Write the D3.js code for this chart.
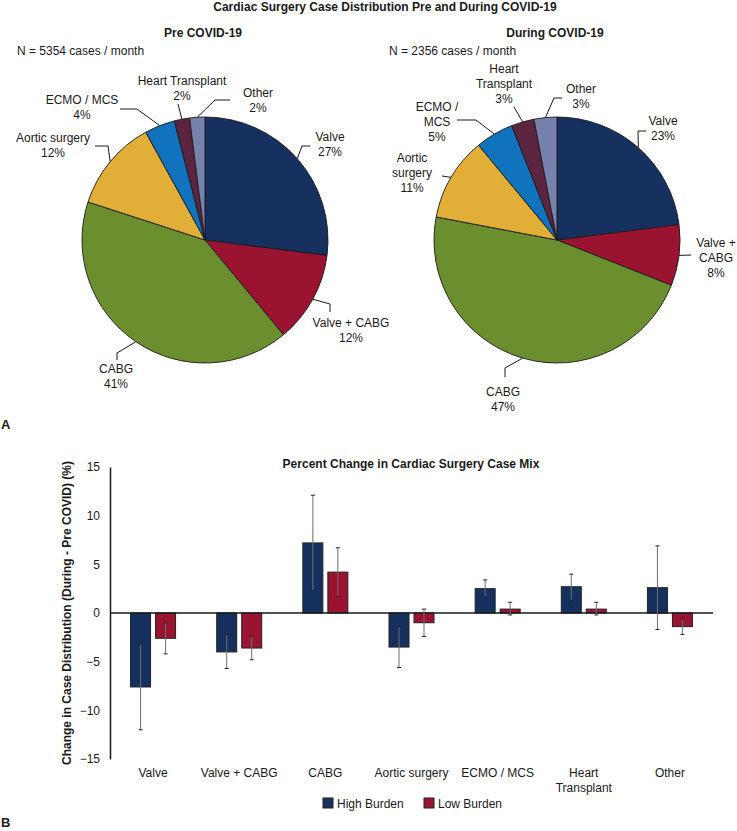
<!DOCTYPE html>
<html><head><meta charset="utf-8">
<script src="https://cdn.jsdelivr.net/npm/d3@7"></script>
<style>
body{margin:0;background:#fff;}
svg{display:block;}
text{font-family:"Liberation Sans",Arial,Helvetica,sans-serif;fill:#1a1a1a;}
</style></head>
<body>
<svg id="chart" width="737" height="831"></svg>
<script>
// ---------- DATA ----------
const sliceNames = ["Valve","Valve + CABG","CABG","Aortic surgery","ECMO / MCS","Heart Transplant","Other"];
const sliceColors = ["#16305f","#9a1431","#6b8e2e","#e1ae37","#1173bd","#5b243f","#7781ae"];
const prePct = [27,12,41,12,4,2,2];
const duringPct = [23,8,47,11,5,3,3];

const categories = ["Valve","Valve + CABG","CABG","Aortic surgery","ECMO / MCS","Heart Transplant","Other"];
const seriesNames = ["High Burden","Low Burden"];
const seriesColors = ["#15305f","#9a1431"];
const highBurden = [-7.6,-4.0,7.2,-3.5,2.5,2.7,2.6];
const highErrLow = [-12.0,-5.7,2.3,-5.6,1.6,1.3,-1.7];
const highErrHigh = [-3.2,-2.2,12.1,-1.4,3.4,4.0,6.9];
const lowBurden = [-2.6,-3.6,4.2,-1.0,0.4,0.4,-1.4];
const lowErrLow = [-4.2,-4.8,1.7,-2.4,-0.2,-0.2,-2.2];
const lowErrHigh = [-1.0,-2.4,6.7,0.4,1.1,1.1,-0.6];
const yTicks = [15,10,5,0,-5,-10,-15];

// ---------- LAYOUT (label placement only) ----------
const preLabels = [
  {lines:["Valve","27%"], x:330, y:141, path:[[302,146],[310,146]]},
  {lines:["Valve + CABG","12%"], x:351, y:327, path:[[330,304],[330,312]]},
  {lines:["CABG","41%"], x:116, y:373, path:[[117,353],[117,360]]},
  {lines:["Aortic surgery","12%"], x:53, y:142, path:[[108,146],[95,146]]},
  {lines:["ECMO / MCS","4%"], x:82, y:104, path:[[137,109],[120,109]]},
  {lines:["Heart Transplant","2%"], x:182, y:85, path:[[178,104]]},
  {lines:["Other","2%"], x:258, y:97, path:[[215,100],[230,100]]}
];
const duringLabels = [
  {lines:["Valve","23%"], x:663, y:125, path:[[638,131],[646,131]]},
  {lines:["Valve +","CABG","8%"], x:716, y:247, path:[[691,255]]},
  {lines:["CABG","47%"], x:503, y:396, path:[[505,368],[505,377]]},
  {lines:["Aortic","surgery","11%"], x:412, y:162, path:[[442,176]]},
  {lines:["ECMO /","MCS","5%"], x:437, y:111, path:[[476,120],[457,120]]},
  {lines:["Heart","Transplant","3%"], x:504, y:73, path:[[514,107]]},
  {lines:["Other","3%"], x:581, y:93, path:[[554,98],[562,98]]}
];

const svg = d3.select("#chart");

// ---------- HEADINGS ----------
function headText(txt, x, y, anchor, bold){
  svg.append("text").attr("x",x).attr("y",y).attr("text-anchor",anchor)
    .style("font-size","12px").style("font-weight",bold?"bold":"normal").text(txt);
}
headText("Cardiac Surgery Case Distribution Pre and During COVID-19", 385, 11, "middle", true);
headText("Pre COVID-19", 203, 37, "middle", true);
headText("During COVID-19", 555, 37, "middle", true);
headText("N = 5354 cases / month", 17, 55, "start", false);
headText("N = 2356 cases / month", 389, 55, "start", false);

// ---------- PIES ----------
const R = 123;
const pie = d3.pie().sort(null).value(d => d);
const arc = d3.arc().innerRadius(0).outerRadius(R);

function drawPie(values, cx, cy, labels){
  const g = svg.append("g").attr("transform",`translate(${cx},${cy})`);
  const arcs = pie(values);
  g.selectAll("path.slice").data(arcs).join("path")
    .attr("class","slice")
    .attr("d",arc)
    .attr("fill",(d,i)=>sliceColors[i])
    .attr("stroke","#1a1a1a").attr("stroke-width",0.9).attr("stroke-linejoin","round");
  arcs.forEach((a,i)=>{
    const mid = (a.startAngle + a.endAngle)/2;
    const sx = cx + R*Math.sin(mid), sy = cy - R*Math.cos(mid);
    const L = labels[i];
    const pts = [[sx,sy]].concat(L.path);
    svg.append("path").attr("d", d3.line()(pts)).attr("fill","none")
      .attr("stroke","#1a1a1a").attr("stroke-width",1);
    const t = svg.append("text").attr("text-anchor","middle").style("font-size","12px");
    L.lines.forEach((ln,k)=>{
      t.append("tspan").attr("x",L.x).attr("y",L.y + k*15).text(ln);
    });
  });
}
drawPie(prePct, 205, 240, preLabels);
drawPie(duringPct, 557, 240, duringLabels);

svg.append("text").attr("x",1).attr("y",429).style("font-size","13px").style("font-weight","bold").text("A");
svg.append("text").attr("x",1).attr("y",827).style("font-size","13px").style("font-weight","bold").text("B");

// ---------- BAR CHART ----------
const x0 = d3.scaleBand().domain(categories).range([110,713]).paddingInner(0).paddingOuter(0);
const groupW = 45;
const x1 = d3.scaleBand().domain(seriesNames).range([0,groupW]).paddingInner(0.2);
const y = d3.scaleLinear().domain([-15,15]).range([759,467]);

const series = [
  {name:seriesNames[0], vals:highBurden, lo:highErrLow, hi:highErrHigh, color:seriesColors[0]},
  {name:seriesNames[1], vals:lowBurden, lo:lowErrLow, hi:lowErrHigh, color:seriesColors[1]}
];

svg.append("text").attr("x",411).attr("y",468).attr("text-anchor","middle")
  .style("font-size","12px").style("font-weight","bold").text("Percent Change in Cardiac Surgery Case Mix");

// y axis
const yAxis = d3.axisLeft(y).tickValues(yTicks).tickSize(0).tickPadding(10);
const ga = svg.append("g").attr("transform","translate(110,0)").call(yAxis);
ga.select(".domain").attr("stroke","#1a1a1a").attr("stroke-width",1.5);
ga.selectAll(".tick text").style("font-size","12px").style("font-family",'"Liberation Sans",Arial,sans-serif').attr("fill","#1a1a1a");

svg.append("text").attr("transform","translate(71,613) rotate(-90)").attr("text-anchor","middle")
  .style("font-size","12px").style("font-weight","bold")
  .text("Change in Case Distribution (During - Pre COVID) (%)");

const bars = svg.append("g");
series.forEach(s=>{
  categories.forEach((c,i)=>{
    const bx = x0(c) + (x0.bandwidth()-groupW)/2 + x1(s.name);
    const v = s.vals[i];
    bars.append("rect")
      .attr("x",bx).attr("width",x1.bandwidth())
      .attr("y",y(Math.max(0,v))).attr("height",Math.abs(y(v)-y(0)))
      .attr("fill",s.color).attr("stroke","#222").attr("stroke-width",1);
  });
});
// zero line
svg.append("line").attr("x1",110).attr("x2",713).attr("y1",y(0)).attr("y2",y(0))
  .attr("stroke","#1a1a1a").attr("stroke-width",1.5);
// error bars
series.forEach(s=>{
  categories.forEach((c,i)=>{
    const cx = x0(c) + (x0.bandwidth()-groupW)/2 + x1(s.name) + x1.bandwidth()/2;
    svg.append("line").attr("x1",cx).attr("x2",cx).attr("y1",y(s.lo[i])).attr("y2",y(s.hi[i]))
      .attr("stroke","#6e6e6e").attr("stroke-width",1);
    [s.lo[i],s.hi[i]].forEach(e=>{
      svg.append("line").attr("x1",cx-2).attr("x2",cx+2).attr("y1",y(e)).attr("y2",y(e))
        .attr("stroke","#222").attr("stroke-width",1);
    });
  });
});

// x labels
categories.forEach(c=>{
  const words = c === "Heart Transplant" ? ["Heart","Transplant"] : [c];
  const t = svg.append("text").attr("text-anchor","middle").style("font-size","12px");
  words.forEach((w,k)=>{
    t.append("tspan").attr("x",x0(c)+x0.bandwidth()/2).attr("y",777+k*15).text(w);
  });
});

// legend
const legX = [323,424];
series.forEach((s,i)=>{
  svg.append("rect").attr("x",legX[i]).attr("y",798).attr("width",10).attr("height",10)
    .attr("fill",s.color).attr("stroke","#222").attr("stroke-width",1);
  svg.append("text").attr("x",legX[i]+14).attr("y",807.5).style("font-size","12px").text(s.name);
});
</script>
</body></html>
